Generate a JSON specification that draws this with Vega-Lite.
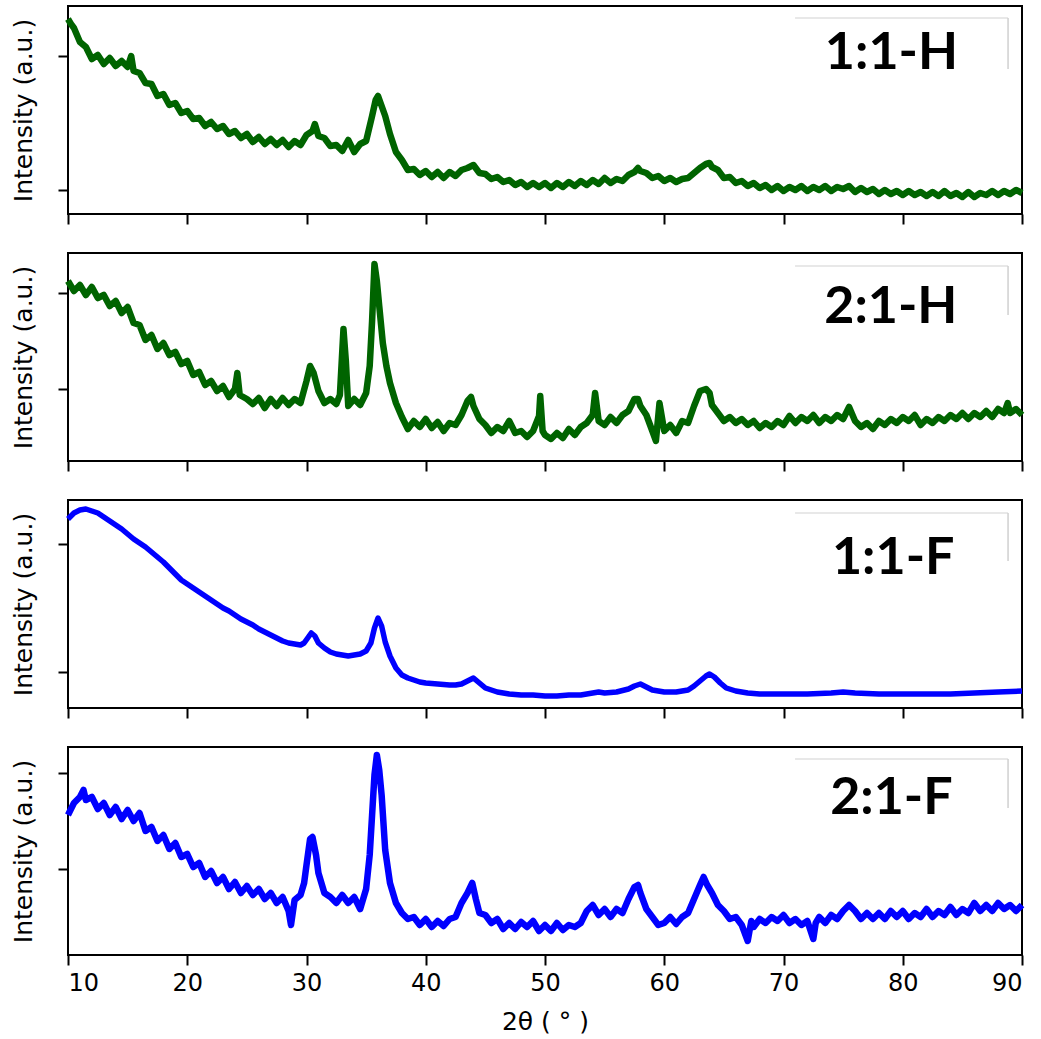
{
 "$schema": "https://vega.github.io/schema/vega-lite/v6.json",
 "padding": {"left": 10, "top": 5, "right": 5, "bottom": 2},
 "background": "white",
 "bounds": "flush",
 "spacing": 39,
 "config": {
  "view": {"stroke": "#000", "strokeWidth": 2},
  "axis": {"grid": false, "domain": false, "tickSize": 10, "tickWidth": 2, "tickColor": "#000", "labelFont": "DejaVu Sans", "titleFont": "DejaVu Sans", "labelFontSize": 24, "titleFontSize": 24, "titleFontWeight": "normal", "labelColor": "#000", "titleColor": "#000"}
 },
 "datasets": {
  "p1": [
   {"x":10.0,"y":195},{"x":10.25,"y":190},{"x":10.5,"y":186},{"x":11.0,"y":172},{"x":11.5,"y":167},{"x":12.0,"y":155},{"x":12.5,"y":159},{"x":13.0,"y":150},{"x":13.5,"y":156},{"x":14.0,"y":148},{"x":14.5,"y":153},{"x":15.0,"y":147},{"x":15.3,"y":158},{"x":15.5,"y":143},{"x":16.0,"y":141},{"x":16.5,"y":131},{"x":17.0,"y":130},{"x":17.5,"y":118},{"x":18.0,"y":120},{"x":18.5,"y":109},{"x":19.0,"y":111},{"x":19.5,"y":101},{"x":20.0,"y":103},{"x":20.5,"y":95},{"x":21.0,"y":96},{"x":21.5,"y":88},{"x":22.0,"y":92},{"x":22.5,"y":85},{"x":23.0,"y":88},{"x":23.5,"y":80},{"x":24.0,"y":83},{"x":24.5,"y":76},{"x":25.0,"y":80},{"x":25.5,"y":72},{"x":26.0,"y":77},{"x":26.5,"y":70},{"x":27.0,"y":75},{"x":27.5,"y":69},{"x":28.0,"y":74},{"x":28.5,"y":67},{"x":29.0,"y":73},{"x":29.5,"y":69},{"x":30.0,"y":79},{"x":30.5,"y":83},{"x":30.7,"y":90},{"x":31.0,"y":78},{"x":31.5,"y":76},{"x":32.0,"y":68},{"x":32.5,"y":69},{"x":33.0,"y":63},{"x":33.5,"y":74},{"x":34.0,"y":62},{"x":34.5,"y":70},{"x":35.0,"y":73},{"x":35.5,"y":98},{"x":35.8,"y":114},{"x":36.0,"y":118},{"x":36.3,"y":108},{"x":36.6,"y":98},{"x":37.0,"y":80},{"x":37.5,"y":62},{"x":38.0,"y":54},{"x":38.5,"y":44},{"x":39.0,"y":45},{"x":39.5,"y":39},{"x":40.0,"y":43},{"x":40.5,"y":37},{"x":41.0,"y":42},{"x":41.5,"y":36},{"x":42.0,"y":42},{"x":42.5,"y":38},{"x":43.0,"y":44},{"x":43.5,"y":46},{"x":44.0,"y":49},{"x":44.5,"y":41},{"x":45.0,"y":40},{"x":45.5,"y":35},{"x":46.0,"y":37},{"x":46.5,"y":32},{"x":47.0,"y":34},{"x":47.5,"y":29},{"x":48.0,"y":32},{"x":48.5,"y":27},{"x":49.0,"y":31},{"x":49.5,"y":27},{"x":50.0,"y":31},{"x":50.5,"y":26},{"x":51.0,"y":31},{"x":51.5,"y":27},{"x":52.0,"y":32},{"x":52.5,"y":28},{"x":53.0,"y":33},{"x":53.5,"y":29},{"x":54.0,"y":34},{"x":54.5,"y":30},{"x":55.0,"y":36},{"x":55.5,"y":31},{"x":56.0,"y":35},{"x":56.5,"y":33},{"x":57.0,"y":39},{"x":57.5,"y":42},{"x":57.8,"y":46},{"x":58.0,"y":43},{"x":58.5,"y":41},{"x":59.0,"y":36},{"x":59.5,"y":38},{"x":60.0,"y":33},{"x":60.5,"y":36},{"x":61.0,"y":32},{"x":61.5,"y":35},{"x":62.0,"y":36},{"x":62.5,"y":41},{"x":63.0,"y":46},{"x":63.5,"y":50},{"x":63.8,"y":51},{"x":64.0,"y":47},{"x":64.5,"y":44},{"x":65.0,"y":36},{"x":65.5,"y":37},{"x":66.0,"y":31},{"x":66.5,"y":33},{"x":67.0,"y":28},{"x":67.5,"y":31},{"x":68.0,"y":26},{"x":68.5,"y":29},{"x":69.0,"y":24},{"x":69.5,"y":28},{"x":70.0,"y":23},{"x":70.5,"y":27},{"x":71.0,"y":24},{"x":71.5,"y":28},{"x":72.0,"y":23},{"x":72.5,"y":27},{"x":73.0,"y":24},{"x":73.5,"y":28},{"x":74.0,"y":23},{"x":74.5,"y":27},{"x":75.0,"y":25},{"x":75.5,"y":28},{"x":76.0,"y":22},{"x":76.5,"y":26},{"x":77.0,"y":22},{"x":77.5,"y":25},{"x":78.0,"y":20},{"x":78.5,"y":24},{"x":79.0,"y":20},{"x":79.5,"y":23},{"x":80.0,"y":19},{"x":80.5,"y":23},{"x":81.0,"y":19},{"x":81.5,"y":22},{"x":82.0,"y":18},{"x":82.5,"y":22},{"x":83.0,"y":18},{"x":83.5,"y":23},{"x":84.0,"y":18},{"x":84.5,"y":21},{"x":85.0,"y":17},{"x":85.5,"y":22},{"x":86.0,"y":17},{"x":86.5,"y":21},{"x":87.0,"y":19},{"x":87.5,"y":23},{"x":88.0,"y":19},{"x":88.5,"y":23},{"x":89.0,"y":20},{"x":89.5,"y":24},{"x":90.0,"y":21}
  ],
  "p2": [
   {"x":10.0,"y":180},{"x":10.5,"y":170},{"x":11.0,"y":176},{"x":11.5,"y":166},{"x":12.0,"y":174},{"x":12.5,"y":163},{"x":13.0,"y":166},{"x":13.5,"y":155},{"x":14.0,"y":160},{"x":14.5,"y":148},{"x":15.0,"y":154},{"x":15.5,"y":138},{"x":16.0,"y":136},{"x":16.5,"y":121},{"x":17.0,"y":126},{"x":17.5,"y":112},{"x":18.0,"y":118},{"x":18.5,"y":106},{"x":19.0,"y":109},{"x":19.5,"y":97},{"x":20.0,"y":100},{"x":20.5,"y":86},{"x":21.0,"y":89},{"x":21.5,"y":76},{"x":22.0,"y":80},{"x":22.5,"y":70},{"x":23.0,"y":75},{"x":23.5,"y":64},{"x":24.0,"y":72},{"x":24.2,"y":88},{"x":24.4,"y":66},{"x":25.0,"y":62},{"x":25.5,"y":57},{"x":26.0,"y":63},{"x":26.5,"y":53},{"x":27.0,"y":62},{"x":27.5,"y":55},{"x":28.0,"y":63},{"x":28.5,"y":56},{"x":29.0,"y":62},{"x":29.5,"y":58},{"x":30.0,"y":80},{"x":30.3,"y":95},{"x":30.6,"y":88},{"x":31.0,"y":70},{"x":31.5,"y":58},{"x":32.0,"y":62},{"x":32.5,"y":57},{"x":32.8,"y":66},{"x":33.1,"y":132},{"x":33.3,"y":100},{"x":33.5,"y":55},{"x":34.0,"y":62},{"x":34.5,"y":56},{"x":35.0,"y":68},{"x":35.3,"y":95},{"x":35.5,"y":140},{"x":35.7,"y":197},{"x":35.9,"y":180},{"x":36.1,"y":155},{"x":36.4,"y":118},{"x":36.7,"y":95},{"x":37.0,"y":78},{"x":37.5,"y":58},{"x":38.0,"y":44},{"x":38.5,"y":32},{"x":39.0,"y":40},{"x":39.5,"y":34},{"x":40.0,"y":42},{"x":40.5,"y":33},{"x":41.0,"y":39},{"x":41.5,"y":30},{"x":42.0,"y":38},{"x":42.5,"y":36},{"x":43.0,"y":46},{"x":43.5,"y":60},{"x":43.8,"y":64},{"x":44.0,"y":55},{"x":44.5,"y":42},{"x":45.0,"y":36},{"x":45.5,"y":28},{"x":46.0,"y":34},{"x":46.5,"y":30},{"x":47.0,"y":40},{"x":47.5,"y":28},{"x":48.0,"y":30},{"x":48.5,"y":24},{"x":49.0,"y":30},{"x":49.5,"y":45},{"x":49.6,"y":65},{"x":49.8,"y":30},{"x":50.0,"y":26},{"x":50.5,"y":22},{"x":51.0,"y":28},{"x":51.5,"y":23},{"x":52.0,"y":32},{"x":52.5,"y":26},{"x":53.0,"y":34},{"x":53.5,"y":38},{"x":54.0,"y":46},{"x":54.2,"y":68},{"x":54.5,"y":40},{"x":55.0,"y":36},{"x":55.5,"y":44},{"x":56.0,"y":38},{"x":56.5,"y":46},{"x":57.0,"y":50},{"x":57.5,"y":62},{"x":57.8,"y":62},{"x":58.0,"y":55},{"x":58.5,"y":46},{"x":59.0,"y":30},{"x":59.3,"y":20},{"x":59.6,"y":58},{"x":60.0,"y":30},{"x":60.5,"y":36},{"x":61.0,"y":28},{"x":61.5,"y":40},{"x":62.0,"y":38},{"x":62.5,"y":55},{"x":63.0,"y":70},{"x":63.5,"y":72},{"x":63.8,"y":68},{"x":64.0,"y":56},{"x":64.5,"y":48},{"x":65.0,"y":40},{"x":65.5,"y":44},{"x":66.0,"y":38},{"x":66.5,"y":42},{"x":67.0,"y":36},{"x":67.5,"y":40},{"x":68.0,"y":33},{"x":68.5,"y":38},{"x":69.0,"y":34},{"x":69.5,"y":40},{"x":70.0,"y":36},{"x":70.5,"y":45},{"x":71.0,"y":38},{"x":71.5,"y":44},{"x":72.0,"y":40},{"x":72.5,"y":46},{"x":73.0,"y":38},{"x":73.5,"y":44},{"x":74.0,"y":40},{"x":74.5,"y":46},{"x":75.0,"y":42},{"x":75.5,"y":54},{"x":76.0,"y":40},{"x":76.5,"y":34},{"x":77.0,"y":38},{"x":77.5,"y":32},{"x":78.0,"y":40},{"x":78.5,"y":36},{"x":79.0,"y":42},{"x":79.5,"y":38},{"x":80.0,"y":44},{"x":80.5,"y":40},{"x":81.0,"y":46},{"x":81.5,"y":36},{"x":82.0,"y":42},{"x":82.5,"y":38},{"x":83.0,"y":44},{"x":83.5,"y":40},{"x":84.0,"y":46},{"x":84.5,"y":42},{"x":85.0,"y":48},{"x":85.5,"y":42},{"x":86.0,"y":48},{"x":86.5,"y":44},{"x":87.0,"y":50},{"x":87.5,"y":44},{"x":88.0,"y":52},{"x":88.5,"y":48},{"x":88.8,"y":58},{"x":89.0,"y":48},{"x":89.5,"y":52},{"x":90.0,"y":46}
  ],
  "p3": [
   {"x":10.0,"y":189},{"x":10.5,"y":195},{"x":11.0,"y":198},{"x":11.5,"y":199},{"x":12.0,"y":197},{"x":12.5,"y":195},{"x":13.0,"y":191},{"x":13.5,"y":187},{"x":14.0,"y":183},{"x":14.5,"y":179},{"x":15.0,"y":174},{"x":15.5,"y":169},{"x":16.0,"y":165},{"x":16.5,"y":161},{"x":17.0,"y":156},{"x":17.5,"y":151},{"x":18.0,"y":146},{"x":18.5,"y":140},{"x":19.0,"y":134},{"x":19.5,"y":128},{"x":20.0,"y":124},{"x":20.5,"y":120},{"x":21.0,"y":116},{"x":21.5,"y":112},{"x":22.0,"y":108},{"x":22.5,"y":104},{"x":23.0,"y":100},{"x":23.5,"y":97},{"x":24.0,"y":93},{"x":24.5,"y":89},{"x":25.0,"y":86},{"x":25.5,"y":83},{"x":26.0,"y":79},{"x":26.5,"y":76},{"x":27.0,"y":73},{"x":27.5,"y":70},{"x":28.0,"y":67},{"x":28.5,"y":65},{"x":29.0,"y":64},{"x":29.5,"y":63},{"x":29.8,"y":65},{"x":30.1,"y":70},{"x":30.4,"y":75},{"x":30.7,"y":72},{"x":31.0,"y":65},{"x":31.5,"y":60},{"x":32.0,"y":56},{"x":32.5,"y":54},{"x":33.0,"y":53},{"x":33.5,"y":52},{"x":34.0,"y":53},{"x":34.5,"y":54},{"x":35.0,"y":57},{"x":35.4,"y":65},{"x":35.7,"y":80},{"x":36.0,"y":90},{"x":36.3,"y":82},{"x":36.6,"y":66},{"x":37.0,"y":52},{"x":37.5,"y":40},{"x":38.0,"y":33},{"x":38.5,"y":30},{"x":39.0,"y":28},{"x":39.5,"y":26},{"x":40.0,"y":25},{"x":41.0,"y":24},{"x":42.0,"y":23},{"x":42.5,"y":23},{"x":43.0,"y":24},{"x":43.5,"y":27},{"x":44.0,"y":30},{"x":44.5,"y":25},{"x":45.0,"y":20},{"x":45.5,"y":18},{"x":46.0,"y":16},{"x":47.0,"y":14},{"x":48.0,"y":13},{"x":49.0,"y":13},{"x":50.0,"y":12},{"x":51.0,"y":12},{"x":52.0,"y":13},{"x":53.0,"y":13},{"x":54.0,"y":15},{"x":54.5,"y":16},{"x":55.0,"y":15},{"x":56.0,"y":16},{"x":57.0,"y":19},{"x":57.5,"y":22},{"x":58.0,"y":24},{"x":58.5,"y":21},{"x":59.0,"y":18},{"x":60.0,"y":16},{"x":61.0,"y":16},{"x":62.0,"y":18},{"x":62.5,"y":22},{"x":63.0,"y":27},{"x":63.5,"y":32},{"x":63.8,"y":34},{"x":64.2,"y":31},{"x":64.7,"y":25},{"x":65.2,"y":20},{"x":66.0,"y":17},{"x":67.0,"y":15},{"x":68.0,"y":14},{"x":70.0,"y":14},{"x":72.0,"y":14},{"x":74.0,"y":15},{"x":75.0,"y":16},{"x":76.0,"y":15},{"x":78.0,"y":14},{"x":80.0,"y":14},{"x":82.0,"y":14},{"x":84.0,"y":14},{"x":86.0,"y":15},{"x":88.0,"y":16},{"x":90.0,"y":17}
  ],
  "p4": [
   {"x":10.0,"y":140},{"x":10.5,"y":152},{"x":11.0,"y":158},{"x":11.3,"y":165},{"x":11.5,"y":155},{"x":12.0,"y":158},{"x":12.5,"y":146},{"x":13.0,"y":152},{"x":13.5,"y":140},{"x":14.0,"y":148},{"x":14.5,"y":136},{"x":15.0,"y":145},{"x":15.5,"y":134},{"x":16.0,"y":142},{"x":16.5,"y":124},{"x":17.0,"y":128},{"x":17.5,"y":114},{"x":18.0,"y":120},{"x":18.5,"y":106},{"x":19.0,"y":112},{"x":19.5,"y":98},{"x":20.0,"y":101},{"x":20.5,"y":88},{"x":21.0,"y":92},{"x":21.5,"y":78},{"x":22.0,"y":84},{"x":22.5,"y":72},{"x":23.0,"y":78},{"x":23.5,"y":66},{"x":24.0,"y":73},{"x":24.5,"y":62},{"x":25.0,"y":69},{"x":25.5,"y":60},{"x":26.0,"y":66},{"x":26.5,"y":56},{"x":27.0,"y":62},{"x":27.5,"y":52},{"x":28.0,"y":58},{"x":28.5,"y":44},{"x":28.7,"y":30},{"x":29.0,"y":55},{"x":29.5,"y":60},{"x":29.8,"y":72},{"x":30.0,"y":90},{"x":30.3,"y":116},{"x":30.5,"y":118},{"x":30.8,"y":100},{"x":31.0,"y":82},{"x":31.5,"y":62},{"x":32.0,"y":58},{"x":32.5,"y":52},{"x":33.0,"y":60},{"x":33.5,"y":52},{"x":34.0,"y":58},{"x":34.5,"y":46},{"x":35.0,"y":66},{"x":35.3,"y":100},{"x":35.5,"y":140},{"x":35.7,"y":180},{"x":35.9,"y":200},{"x":36.1,"y":185},{"x":36.3,"y":160},{"x":36.6,"y":105},{"x":37.0,"y":72},{"x":37.5,"y":52},{"x":38.0,"y":42},{"x":38.5,"y":36},{"x":39.0,"y":38},{"x":39.5,"y":30},{"x":40.0,"y":36},{"x":40.5,"y":28},{"x":41.0,"y":34},{"x":41.5,"y":29},{"x":42.0,"y":36},{"x":42.5,"y":38},{"x":43.0,"y":52},{"x":43.5,"y":62},{"x":43.9,"y":72},{"x":44.2,"y":56},{"x":44.5,"y":42},{"x":45.0,"y":40},{"x":45.5,"y":32},{"x":46.0,"y":36},{"x":46.5,"y":26},{"x":47.0,"y":32},{"x":47.5,"y":26},{"x":48.0,"y":33},{"x":48.5,"y":28},{"x":49.0,"y":34},{"x":49.5,"y":24},{"x":50.0,"y":30},{"x":50.5,"y":24},{"x":51.0,"y":32},{"x":51.5,"y":25},{"x":52.0,"y":30},{"x":52.5,"y":28},{"x":53.0,"y":32},{"x":53.5,"y":44},{"x":54.0,"y":50},{"x":54.5,"y":40},{"x":55.0,"y":46},{"x":55.5,"y":38},{"x":56.0,"y":46},{"x":56.5,"y":42},{"x":57.0,"y":56},{"x":57.5,"y":68},{"x":57.8,"y":70},{"x":58.0,"y":62},{"x":58.5,"y":46},{"x":59.0,"y":38},{"x":59.5,"y":30},{"x":60.0,"y":32},{"x":60.5,"y":38},{"x":61.0,"y":31},{"x":61.5,"y":38},{"x":62.0,"y":42},{"x":62.5,"y":56},{"x":63.0,"y":70},{"x":63.3,"y":78},{"x":63.6,"y":70},{"x":64.0,"y":62},{"x":64.5,"y":50},{"x":65.0,"y":44},{"x":65.5,"y":36},{"x":66.0,"y":38},{"x":66.5,"y":30},{"x":67.0,"y":14},{"x":67.3,"y":34},{"x":67.5,"y":28},{"x":68.0,"y":36},{"x":68.5,"y":32},{"x":69.0,"y":38},{"x":69.5,"y":34},{"x":70.0,"y":40},{"x":70.5,"y":32},{"x":71.0,"y":36},{"x":71.5,"y":30},{"x":72.0,"y":34},{"x":72.5,"y":16},{"x":72.7,"y":32},{"x":73.0,"y":38},{"x":73.5,"y":32},{"x":74.0,"y":40},{"x":74.5,"y":36},{"x":75.0,"y":44},{"x":75.5,"y":50},{"x":76.0,"y":44},{"x":76.5,"y":36},{"x":77.0,"y":42},{"x":77.5,"y":36},{"x":78.0,"y":42},{"x":78.5,"y":36},{"x":79.0,"y":44},{"x":79.5,"y":38},{"x":80.0,"y":44},{"x":80.5,"y":36},{"x":81.0,"y":42},{"x":81.5,"y":38},{"x":82.0,"y":46},{"x":82.5,"y":38},{"x":83.0,"y":44},{"x":83.5,"y":40},{"x":84.0,"y":48},{"x":84.5,"y":40},{"x":85.0,"y":46},{"x":85.5,"y":42},{"x":86.0,"y":52},{"x":86.5,"y":44},{"x":87.0,"y":50},{"x":87.5,"y":44},{"x":88.0,"y":52},{"x":88.5,"y":46},{"x":89.0,"y":50},{"x":89.5,"y":44},{"x":90.0,"y":50}
  ]
 },
 "vconcat": [
  {
   "width": 954, "height": 208,
   "layer": [
    {"data": {"name": "p1"}, "mark": {"type": "line", "color": "#006400", "strokeWidth": 6.5, "strokeJoin": "round"},
     "encoding": {
      "x": {"field": "x", "type": "quantitative", "scale": {"domain": [10, 90], "nice": false, "zero": false}, "axis": {"values": [10,20,30,40,50,60,70,80,90], "labels": false, "title": null}},
      "y": {"field": "y", "type": "quantitative", "scale": {"domain": [0, 208], "nice": false}, "axis": {"values": [24.3, 157.7], "labels": false, "title": "Intensity (a.u.)", "titlePadding": 21, "titleFontSize": 25}}
     }},
    {"data": {"values": [{"label": "1:1-H"}]}, "mark": {"type": "rule", "color": "#e0e0e0", "strokeWidth": 1.5}, "encoding": {"x": {"datum": 70.97}, "x2": {"datum": 88.83}, "y": {"datum": 196}}},
    {"data": {"values": [{"label": "1:1-H"}]}, "mark": {"type": "rule", "color": "#d0d0d0", "strokeWidth": 1.5}, "encoding": {"x": {"datum": 88.83}, "y": {"datum": 196}, "y2": {"datum": 145}}},
    {"data": {"values": [{"label": "1:1-H"}]}, "mark": {"type": "text", "font": "Lato", "fontWeight": "bold", "fontSize": 52, "align": "center", "baseline": "alphabetic", "color": "#000"}, "encoding": {"x": {"datum": 79.05}, "y": {"datum": 145}, "text": {"field": "label"}}}
   ]
  },
  {
   "width": 954, "height": 208,
   "layer": [
    {"data": {"name": "p2"}, "mark": {"type": "line", "color": "#006400", "strokeWidth": 6.5, "strokeJoin": "round"},
     "encoding": {
      "x": {"field": "x", "type": "quantitative", "scale": {"domain": [10, 90], "nice": false, "zero": false}, "axis": {"values": [10,20,30,40,50,60,70,80,90], "labels": false, "title": null}},
      "y": {"field": "y", "type": "quantitative", "scale": {"domain": [0, 208], "nice": false}, "axis": {"values": [72.3, 168], "labels": false, "title": "Intensity (a.u.)", "titlePadding": 21, "titleFontSize": 25}}
     }},
    {"data": {"values": [{"label": "2:1-H"}]}, "mark": {"type": "rule", "color": "#e0e0e0", "strokeWidth": 1.5}, "encoding": {"x": {"datum": 70.97}, "x2": {"datum": 88.83}, "y": {"datum": 195}}},
    {"data": {"values": [{"label": "2:1-H"}]}, "mark": {"type": "rule", "color": "#d0d0d0", "strokeWidth": 1.5}, "encoding": {"x": {"datum": 88.83}, "y": {"datum": 195}, "y2": {"datum": 146}}},
    {"data": {"values": [{"label": "2:1-H"}]}, "mark": {"type": "text", "font": "Lato", "fontWeight": "bold", "fontSize": 52, "align": "center", "baseline": "alphabetic", "color": "#000"}, "encoding": {"x": {"datum": 79.0}, "y": {"datum": 138}, "text": {"field": "label"}}}
   ]
  },
  {
   "width": 954, "height": 208,
   "layer": [
    {"data": {"name": "p3"}, "mark": {"type": "line", "color": "#0000ff", "strokeWidth": 5.5, "strokeJoin": "round"},
     "encoding": {
      "x": {"field": "x", "type": "quantitative", "scale": {"domain": [10, 90], "nice": false, "zero": false}, "axis": {"values": [10,20,30,40,50,60,70,80,90], "labels": false, "title": null}},
      "y": {"field": "y", "type": "quantitative", "scale": {"domain": [0, 208], "nice": false}, "axis": {"values": [36.3, 163.7], "labels": false, "title": "Intensity (a.u.)", "titlePadding": 21, "titleFontSize": 25}}
     }},
    {"data": {"values": [{"label": "1:1-F"}]}, "mark": {"type": "rule", "color": "#e0e0e0", "strokeWidth": 1.5}, "encoding": {"x": {"datum": 70.97}, "x2": {"datum": 88.83}, "y": {"datum": 195}}},
    {"data": {"values": [{"label": "1:1-F"}]}, "mark": {"type": "rule", "color": "#d0d0d0", "strokeWidth": 1.5}, "encoding": {"x": {"datum": 88.83}, "y": {"datum": 195}, "y2": {"datum": 147}}},
    {"data": {"values": [{"label": "1:1-F"}]}, "mark": {"type": "text", "font": "Lato", "fontWeight": "bold", "fontSize": 52, "align": "center", "baseline": "alphabetic", "color": "#000"}, "encoding": {"x": {"datum": 79.2}, "y": {"datum": 134}, "text": {"field": "label"}}}
   ]
  },
  {
   "width": 954, "height": 208,
   "layer": [
    {"data": {"name": "p4"}, "mark": {"type": "line", "color": "#0000ff", "strokeWidth": 6.5, "strokeJoin": "round"},
     "encoding": {
      "x": {"field": "x", "type": "quantitative", "scale": {"domain": [10, 90], "nice": false, "zero": false}, "axis": {"values": [10,20,30,40,50,60,70,80,90], "labels": true, "title": "2θ ( ° )", "labelPadding": 6, "titlePadding": 14, "titleFontSize": 25}},
      "y": {"field": "y", "type": "quantitative", "scale": {"domain": [0, 208], "nice": false}, "axis": {"values": [86.3, 182.3], "labels": false, "title": "Intensity (a.u.)", "titlePadding": 21, "titleFontSize": 25}}
     }},
    {"data": {"values": [{"label": "2:1-F"}]}, "mark": {"type": "rule", "color": "#e0e0e0", "strokeWidth": 1.5}, "encoding": {"x": {"datum": 70.97}, "x2": {"datum": 88.83}, "y": {"datum": 196}}},
    {"data": {"values": [{"label": "2:1-F"}]}, "mark": {"type": "rule", "color": "#d0d0d0", "strokeWidth": 1.5}, "encoding": {"x": {"datum": 88.83}, "y": {"datum": 196}, "y2": {"datum": 147}}},
    {"data": {"values": [{"label": "2:1-F"}]}, "mark": {"type": "text", "font": "Lato", "fontWeight": "bold", "fontSize": 52, "align": "center", "baseline": "alphabetic", "color": "#000"}, "encoding": {"x": {"datum": 79.05}, "y": {"datum": 141}, "text": {"field": "label"}}}
   ]
  }
 ]
}
